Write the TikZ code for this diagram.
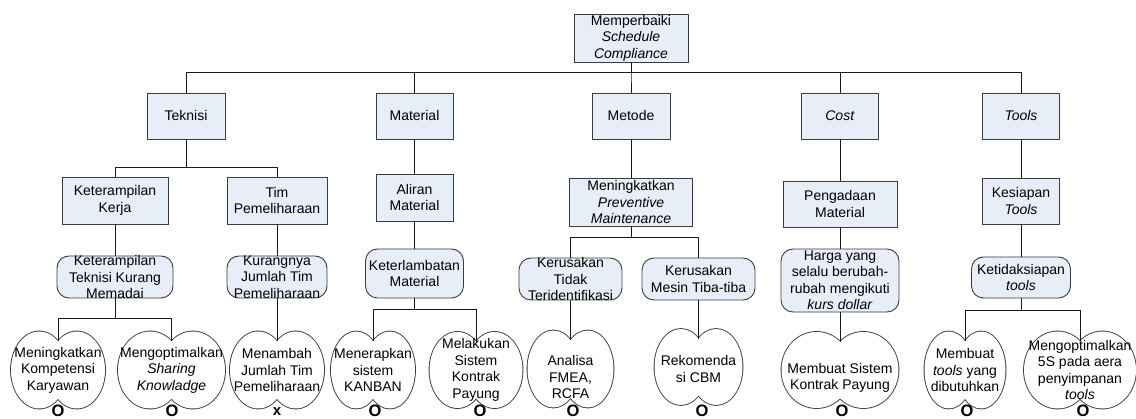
\documentclass[tikz,border=0pt]{standalone}
\usepackage{fontspec}
\setmainfont{Liberation Sans}
\usetikzlibrary{calc}
\definecolor{boxfill}{RGB}{232,238,247}
\definecolor{edgecol}{RGB}{60,60,60}
\definecolor{linecol}{RGB}{25,25,25}
\tikzset{
  base/.style={draw=edgecol, line width=0.9pt, fill=boxfill, inner sep=0pt},
  sqbox/.style={base, rectangle},
  rbox/.style={base, rectangle, rounded corners=12pt},
  txt/.style={align=center, inner sep=0pt, font=\fontsize{14}{16.5}\selectfont},
  conn/.style={draw=linecol, line width=0.9pt},
  markO/.style={inner sep=0pt, font=\fontsize{16.5}{16.5}\selectfont\bfseries},
  markX/.style={inner sep=0pt, font=\fontsize{15}{15}\selectfont\bfseries},
  lobeline/.style={draw=edgecol, line width=1.8pt},
}
% name, style, cx, cy, w, h, text
\newcommand\drawbox[7]{%
  \node[#2, minimum width=#5pt, minimum height=#6pt] (#1) at (#3,#4) {};
  \node[txt] (#1t) at (#1.center) {#7};
}
% name, cx, cy, W, H, text dy, text
\newcommand\drawcloud[7]{%
  \pgfmathsetmacro\cla{0.30*#4}%
  \pgfmathsetmacro\cldd{0.20*#4}%
  \pgfmathsetmacro\clb{0.5*#5}%
  \pgfmathsetmacro\clcy{#3-0.745*\clb}%
  \path[lobeline] (#2-\cldd,#3) ellipse ({\cla pt} and {\clb pt}) (#2+\cldd,#3) ellipse ({\cla pt} and {\clb pt});
  \path[fill=white] (#2-\cldd,#3) ellipse ({\cla pt} and {\clb pt}) (#2+\cldd,#3) ellipse ({\cla pt} and {\clb pt});
  \coordinate (#1) at (#2,\clcy);
  \node[txt] (#1t) at (#2,#3+#6) {#7};
}
\begin{document}
\begin{tikzpicture}[x=1pt,y=-1pt]
\useasboundingbox (0,0) rectangle (1136,419);
\fill[white] (0,0) rectangle (1136,419);

% top
\drawbox{top}{sqbox}{631}{38}{114}{48}{Memperbaiki\\\textit{Schedule}\\\textit{Compliance}}
% level 1
\drawbox{tek}{sqbox}{186}{116}{78}{46}{Teknisi}
\drawbox{mat}{sqbox}{414.5}{116}{77}{46}{Material}
\drawbox{met}{sqbox}{631}{116}{78}{46}{Metode}
\drawbox{cost}{sqbox}{840}{116}{77}{46}{\textit{Cost}}
\drawbox{tools}{sqbox}{1021}{116}{77}{46}{\textit{Tools}}
% level 2
\drawbox{kk}{sqbox}{115}{200.5}{106}{47}{Keterampilan\\Kerja}
\drawbox{tim}{sqbox}{277}{200.5}{100}{47}{Tim\\Pemeliharaan}
\drawbox{ali}{sqbox}{414.5}{197.5}{77}{47}{Aliran\\Material}
\drawbox{mpm}{sqbox}{631}{202}{123}{48}{Meningkatkan\\\textit{Preventive}\\\textit{Maintenance}}
\drawbox{peng}{sqbox}{840}{204}{114}{46}{Pengadaan\\Material}
\drawbox{kes}{sqbox}{1021}{201}{77}{46}{Kesiapan\\\textit{Tools}}
% level 3
\drawbox{ktkm}{rbox}{115}{277}{116}{42}{Keterampilan\\Teknisi Kurang\\Memadai}
\drawbox{kur}{rbox}{277}{277}{100}{42}{Kurangnya\\Jumlah Tim\\Pemeliharaan}
\drawbox{ket}{rbox}{414.5}{273.5}{98}{49}{Keterlambatan\\Material}
\drawbox{ktt}{rbox}{570.5}{279}{103}{42}{Kerusakan\\Tidak\\Teridentifikasi}
\drawbox{kmtt}{rbox}{698.5}{279}{113}{42}{Kerusakan\\Mesin Tiba-tiba}
\drawbox{harga}{rbox}{840}{280.5}{118}{63}{Harga yang\\selalu berubah-\\rubah mengikuti\\\textit{kurs dollar}}
\drawbox{ketid}{rbox}{1021}{277.5}{99}{41}{Ketidaksiapan\\\textit{tools}}

% level 4 clouds
\drawcloud{c1}{58}{370}{94}{77}{0}{Meningkatkan\\Kompetensi\\Karyawan}
\drawcloud{c2}{171.5}{370}{107}{77}{0}{Mengoptimalkan\\\textit{Sharing}\\\textit{Knowladge}}
\drawcloud{c3}{277}{370}{94}{77}{0}{Menambah\\Jumlah Tim\\Pemeliharaan}
\drawcloud{c4}{373}{370}{84}{77}{0}{Menerapkan\\sistem\\KANBAN}
\drawcloud{c5}{476}{370}{93}{76}{0}{Melakukan\\Sistem\\Kontrak\\Payung}
\drawcloud{c6}{570.5}{369}{86}{77}{8}{Analisa\\FMEA,\\RCFA}
\drawcloud{c7}{698.5}{367}{88}{76}{2}{Rekomenda\\si CBM}
\drawcloud{c8}{840}{370}{117}{76}{8}{Membuat Sistem\\Kontrak Payung}
\drawcloud{c9}{965}{370}{81}{77}{0}{Membuat\\\textit{tools} yang\\dibutuhkan}
\drawcloud{c10}{1080}{370}{112}{77}{0}{Mengoptimalkan\\5S pada aera\\penyimpanan\\\textit{tools}}

% connectors
\foreach \ch in {tek,mat,met,cost,tools}
  \draw[conn] (top.south) -- ++(0,10) -| (\ch.north);
\foreach \ch in {kk,tim}
  \draw[conn] (tek.south) -- ++(0,28) -| (\ch.north);
\draw[conn] (mat.south) -- (ali.north);
\draw[conn] (met.south) -- (mpm.north);
\draw[conn] (cost.south) -- (peng.north);
\draw[conn] (tools.south) -- (kes.north);
\draw[conn] (kk.south) -- (ktkm.north);
\draw[conn] (tim.south) -- (kur.north);
\draw[conn] (ali.south) -- (ket.north);
\foreach \ch in {ktt,kmtt}
  \draw[conn] (mpm.south) -- ++(0,11) -| (\ch.north);
\draw[conn] (peng.south) -- (harga.north);
\draw[conn] (kes.south) -- (ketid.north);
\foreach \ch in {c1,c2}
  \draw[conn] (ktkm.south) -- ++(0,20) -| (\ch);
\draw[conn] (kur.south) -- (c3);
\foreach \ch in {c4,c5}
  \draw[conn] (ket.south) -- ++(0,11) -| (\ch);
\draw[conn] (ktt.south) -- (c6);
\draw[conn] (kmtt.south) -- (c7);
\draw[conn] (harga.south) -- (c8);
\foreach \ch in {c9,c10}
  \draw[conn] (ketid.south) -- ++(0,12) -| (\ch);

% marks
\node[markO] (m1) at (58,411) {O};
\node[markO] (m2) at (172,411) {O};
\node[markX] (m3) at (277,411.5) {x};
\node[markO] (m4) at (375,411) {O};
\node[markO] (m5) at (480,411) {O};
\node[markO] (m6) at (573,411) {O};
\node[markO] (m7) at (702,411) {O};
\node[markO] (m8) at (842,411) {O};
\node[markO] (m9) at (967,411) {O};
\node[markO] (m10) at (1083,411) {O};
\end{tikzpicture}
\end{document}
